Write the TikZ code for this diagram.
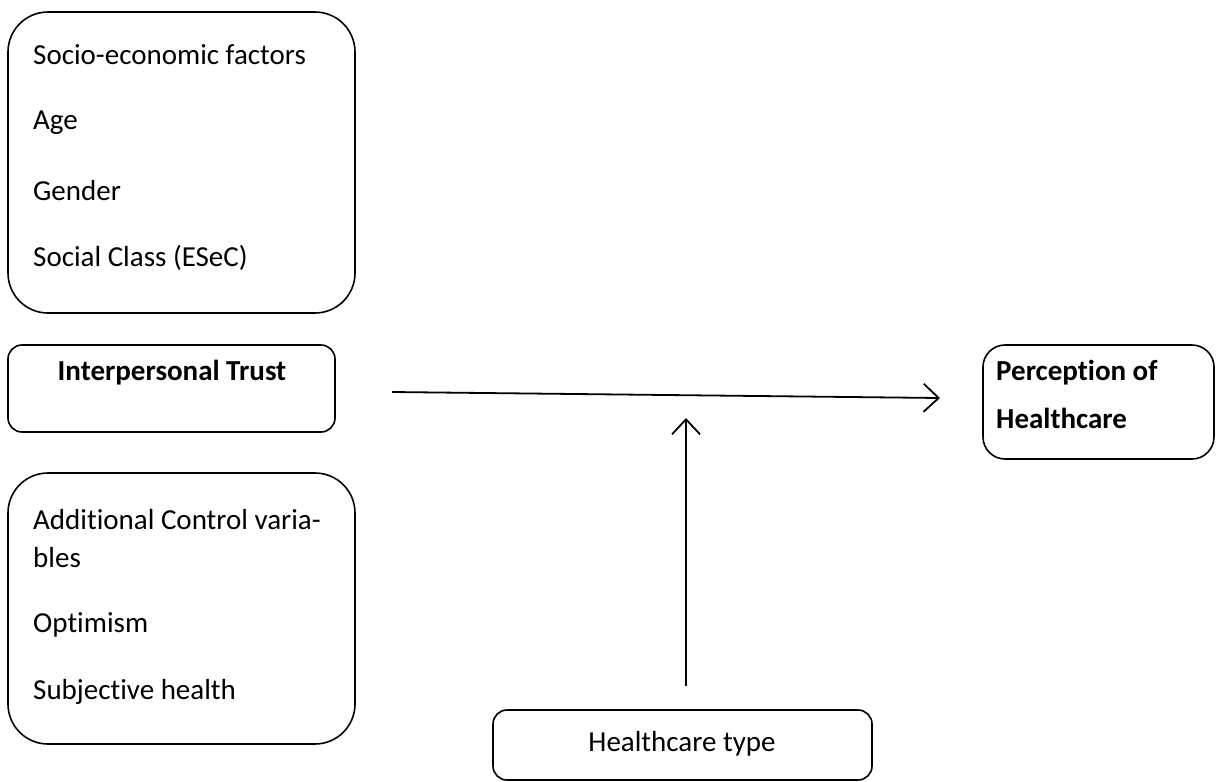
\documentclass[tikz,border=0pt]{standalone}
\usepackage{fontspec}
\setmainfont{Carlito}[Ligatures={NoCommon}]
\usetikzlibrary{arrows.meta}
\begin{document}
\begin{tikzpicture}[x=1pt,y=-1pt,
  box/.style={draw,line width=1.6pt,rectangle,inner sep=0pt},
  txt/.style={anchor=west,inner sep=0pt,font=\fontsize{29}{34}\selectfont},
  btxt/.style={txt,font=\fontsize{29}{34}\selectfont\bfseries},
  conn/.style={line width=1.8pt,-{Straight Barb[length=15pt,width=28pt,line width=1.8pt]}}]
\useasboundingbox (0,0) rectangle (1216,782);
% boxes
\node[box,rounded corners=40pt,minimum width=347pt,minimum height=301pt] (socio) at (181.5,162.5) {};
\node[box,rounded corners=14pt,minimum width=327pt,minimum height=87pt] (trust) at (171.5,388.5) {};
\node[box,rounded corners=40pt,minimum width=347pt,minimum height=271pt] (ctrl) at (181.5,608.5) {};
\node[box,rounded corners=22pt,minimum width=231pt,minimum height=114pt] (perc) at (1098.5,402) {};
\node[box,rounded corners=14pt,minimum width=379pt,minimum height=70pt] (htype) at (682.5,745) {};
% texts
\node[txt] (t1) at (33,55) {Socio-economic factors};
\node[txt] (t2) at (33,123) {Age};
\node[txt] (t3) at (33,191) {Gender};
\node[txt] (t4) at (33,258) {Social Class (ESeC)};
\node[btxt,anchor=center] (t5) at (172,373) {Interpersonal Trust};
\node[txt] (t6) at (33,520) {Additional Control varia-};
\node[txt] (t7) at (33,558) {bles};
\node[txt] (t8) at (33,625) {Optimism};
\node[txt] (t9) at (33,692) {Subjective health};
\node[btxt] (t10) at (996,373) {Perception of};
\node[btxt] (t11) at (996,418) {Healthcare};
\node[txt,anchor=center] (t12) at (682,744) {Healthcare type};
% connectors
\coordinate (hs) at (392,392);
\coordinate (he) at (940,398);
\coordinate (vs) at (686,686);
\coordinate (ve) at (686,418);
\draw[conn] (hs) -- (he);
\draw[conn] (vs) -- (ve);
\end{tikzpicture}
\end{document}
